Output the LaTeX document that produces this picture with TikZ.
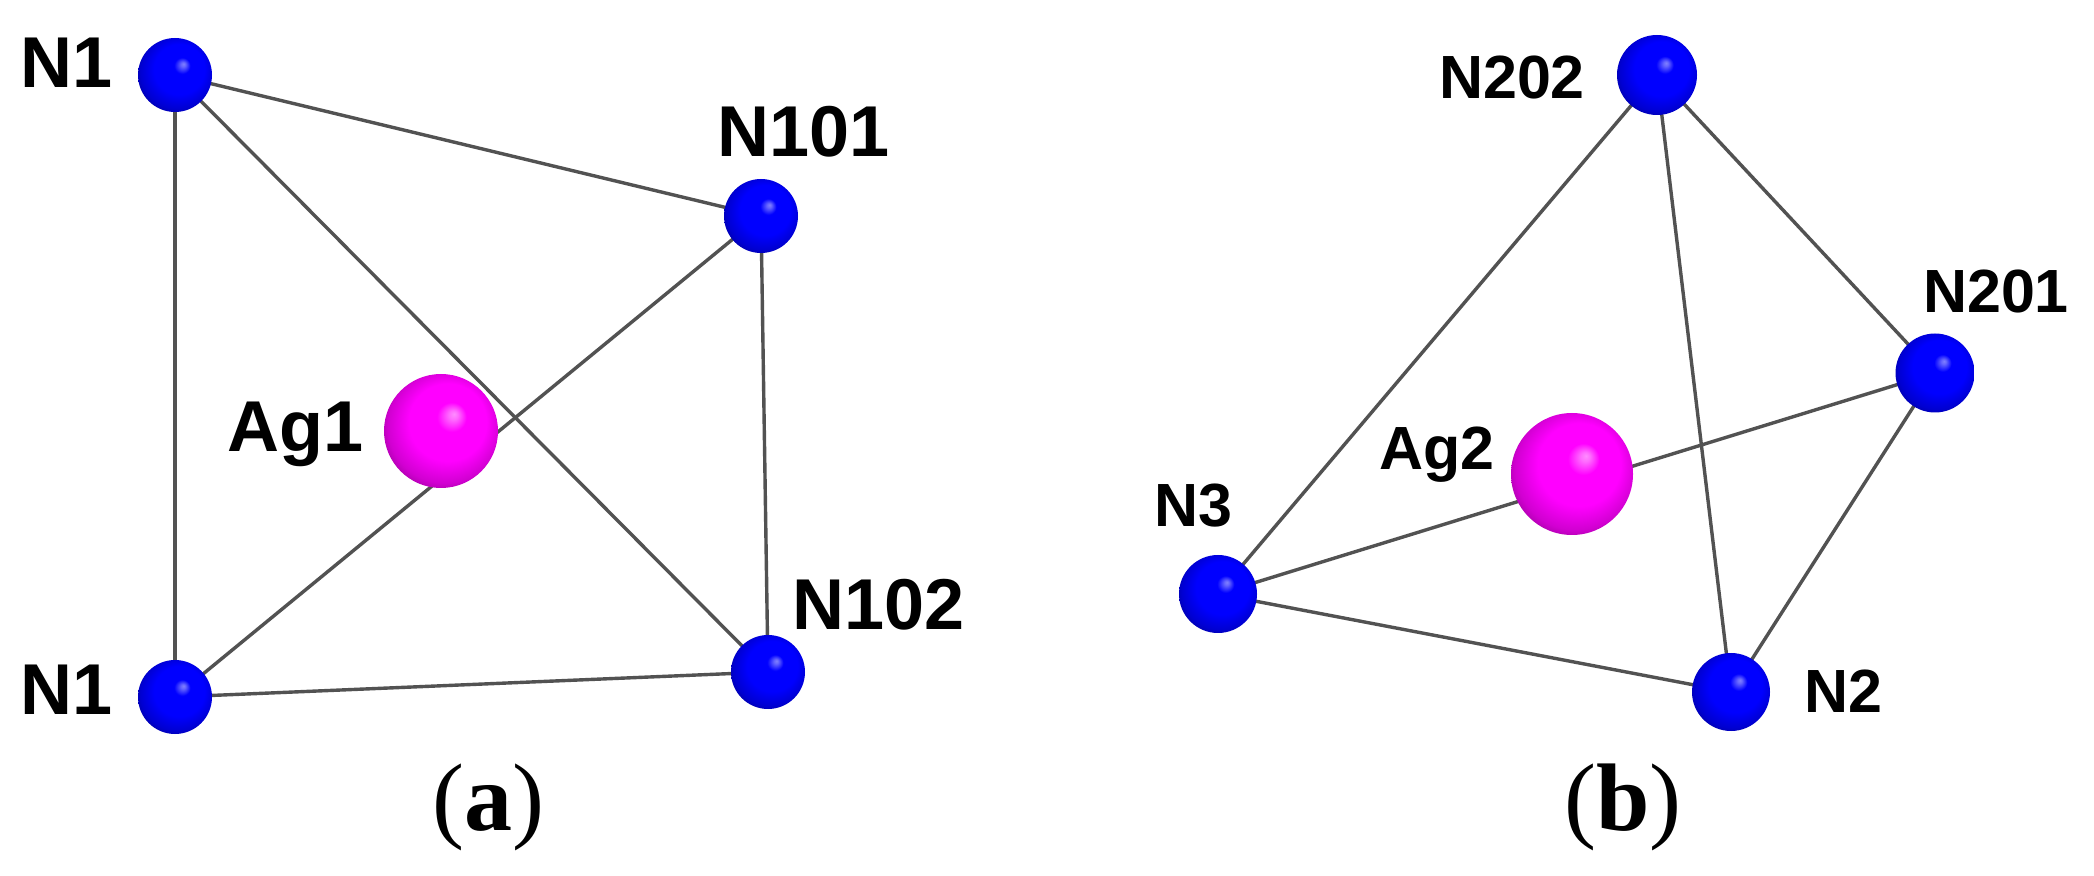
\documentclass[tikz,border=0pt]{standalone}
\usepackage{fontspec}
\setmainfont{Liberation Serif}
\newfontfamily\labfont{Liberation Sans}
\pgfdeclareradialshading{bluesphere}{\pgfpoint{5.75bp}{7.5bp}}{%
  color(0bp)=(blue!50!white);color(1.5bp)=(blue!60!white);color(5.5bp)=(blue);color(17bp)=(blue);color(25bp)=(blue!82!black);color(30bp)=(blue!60!black);color(35bp)=(blue!45!black)}
\pgfdeclareradialshading{magsphere}{\pgfpoint{5.75bp}{7.5bp}}{%
  color(0bp)=(magenta!45!white);color(2bp)=(magenta!58!white);color(6.5bp)=(magenta);color(17bp)=(magenta);color(25bp)=(magenta!82!black);color(30bp)=(magenta!60!black);color(35bp)=(magenta!45!black)}
\tikzset{
  bond/.style={draw=black!68,line width=1.7pt},
  natom/.style={circle,inner sep=0pt,minimum size=#1,shading=bluesphere},
  agatom/.style={circle,inner sep=0pt,minimum size=#1,shading=magsphere},
  biglab/.style={anchor=base,inner sep=0pt,font=\labfont\bfseries\fontsize{36}{36}\selectfont},
  smalllab/.style={anchor=base,inner sep=0pt,font=\labfont\bfseries\fontsize{30.5}{30.5}\selectfont},
  caption/.style={anchor=base,inner sep=0pt,font=\fontsize{48}{48}\selectfont}
}
\begin{document}
\begin{tikzpicture}[x=0.5pt,y=-0.5pt]
\useasboundingbox[fill=white] (0,0) rectangle (2094,876);
\coordinate (a1) at (175,75);
\coordinate (a2) at (175,697);
\coordinate (a3) at (761,216);
\coordinate (a4) at (768,672);
\coordinate (ag1c) at (441,431);
\coordinate (b1) at (1657,75);
\coordinate (b2) at (1935,373);
\coordinate (b3) at (1218,594);
\coordinate (b4) at (1731,692);
\coordinate (ag2c) at (1572,474);
\draw[bond] (a1) -- (a2);
\draw[bond] (a1) -- (a3);
\draw[bond] (a1) -- (a4);
\draw[bond] (a3) -- (a4);
\draw[bond] (a3) -- (a2);
\draw[bond] (a2) -- (a4);
\draw[bond] (b1) -- (b3);
\draw[bond] (b1) -- (b4);
\draw[bond] (b1) -- (b2);
\draw[bond] (b2) -- (b4);
\draw[bond] (b2) -- (b3);
\draw[bond] (b3) -- (b4);
\node[natom=37pt] (n1t) at (a1) {};
\node[natom=37pt] (n1b) at (a2) {};
\node[natom=37pt] (n101) at (a3) {};
\node[natom=37pt] (n102) at (a4) {};
\node[agatom=57pt] (ag1) at (ag1c) {};
\node[natom=40pt] (n202) at (b1) {};
\node[natom=39.5pt] (n201) at (b2) {};
\node[natom=39pt] (n3) at (b3) {};
\node[natom=39pt] (n2) at (b4) {};
\node[agatom=61pt] (ag2) at (ag2c) {};
\node[biglab] (l1) at (67,88) {N1};
\node[biglab] (l2) at (67,714) {N1};
\node[biglab] (l3) at (804,157) {N101};
\node[biglab] (l4) at (879,630) {N102};
\node[biglab] (l5) at (296,452) {Ag1};
\node[smalllab] (l6) at (1512,99) {N202};
\node[smalllab] (l7) at (1996,313) {N201};
\node[smalllab] (l8) at (1437,470) {Ag2};
\node[smalllab] (l9) at (1193,527) {N3};
\node[smalllab] (l10) at (1843,712) {N2};
\node[caption] (ca) at (488,830) {(\textbf{a})};
\node[caption] (cb) at (1623,830) {(\textbf{b})};
\end{tikzpicture}
\end{document}
